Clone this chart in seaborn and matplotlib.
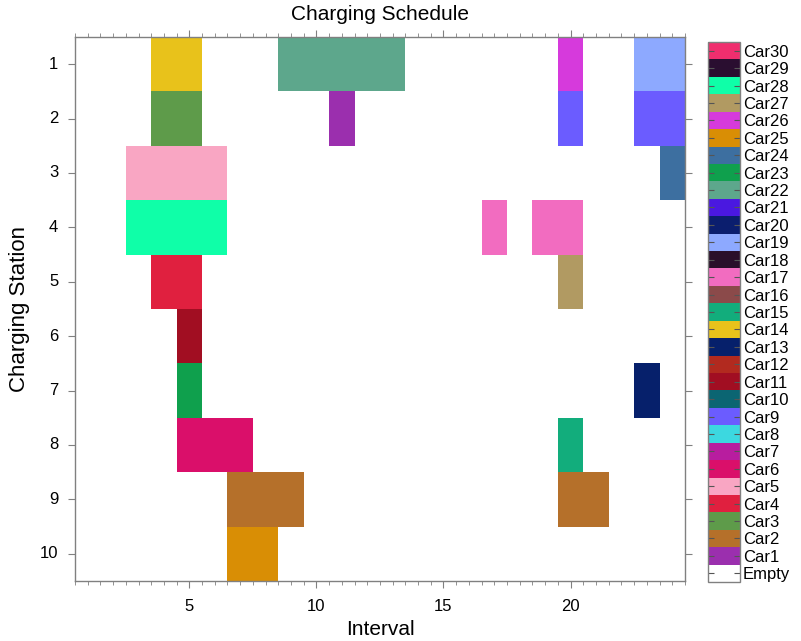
import numpy as np
import seaborn as sns
import matplotlib
matplotlib.use('Agg')
from matplotlib import pyplot as plt
from matplotlib.colors import ListedColormap
from matplotlib.ticker import MultipleLocator

N_STATIONS = 10
N_INTERVALS = 24

LEGEND_LABELS = ['Empty'] + [f'Car{i}' for i in range(1, 31)]
LEGEND_COLORS = [
    '#ffffff',  # Empty
    '#9b2fae', '#b5702a', '#5e9b4a', '#e0203f', '#f9a6c3',
    '#da0f6a', '#b81d9f', '#3cd8e0', '#6b5cff', '#0b6572',
    '#a10e22', '#b22a1f', '#06206b', '#e8c21b', '#12ad7c',
    '#8b4a4a', '#f26cc0', '#2a0f2a', '#8da9ff', '#0b1e6e',
    '#4a18e0', '#5da78c', '#0fa04d', '#3d6fa0', '#d98e05',
    '#d63adc', '#b19a62', '#0fffa8', '#2a0e30', '#f02e6e',
]

# one schedule block per entry: car, station, first and last interval
block_car = [14, 22, 26, 19, 3, 1, 9, 9, 5, 24, 28, 17, 17, 4, 27,
             11, 23, 13, 6, 15, 2, 2, 25]
block_station = [1, 1, 1, 1, 2, 2, 2, 2, 3, 3, 4, 4, 4, 5, 5,
                 6, 7, 7, 8, 8, 9, 9, 10]
block_start = [4, 9, 20, 23, 4, 11, 20, 23, 3, 24, 3, 17, 19, 4, 20,
               5, 5, 23, 5, 20, 7, 20, 7]
block_end = [5, 13, 20, 24, 5, 11, 20, 24, 6, 24, 6, 17, 20, 5, 20,
             5, 5, 23, 7, 20, 9, 21, 8]

grid = np.zeros((N_STATIONS, N_INTERVALS), dtype=int)
for car, st, a, b in zip(block_car, block_station, block_start, block_end):
    grid[st - 1, a - 1:b] = car

plt.rcParams['font.family'] = ['Liberation Sans', 'DejaVu Sans']
fig = plt.figure(figsize=(8.01, 6.41), dpi=100)
ax = fig.add_axes([0.0936, 0.0936, 0.7615, 0.8487])
cax = fig.add_axes([0.884, 0.092, 0.040, 0.8425])

cmap = ListedColormap(LEGEND_COLORS)
sns.heatmap(grid, cmap=cmap, vmin=-0.5, vmax=30.5, ax=ax, cbar_ax=cax,
            cbar_kws={'ticks': list(range(31))})

gray = '#808080'
for side, sp in ax.spines.items():
    sp.set_visible(True)
    sp.set_color(gray)
    sp.set_linewidth(1.0)

ax.set_xticks([4.5, 9.5, 14.5, 19.5])
ax.set_xticklabels(['5', '10', '15', '20'], rotation=0)
ax.xaxis.set_minor_locator(MultipleLocator(0.5))
ax.set_yticks(np.arange(N_STATIONS) + 0.5)
ax.set_yticklabels([str(i) for i in range(1, N_STATIONS + 1)], rotation=0)
ax.tick_params(axis='both', which='major', direction='out', length=5,
               color=gray, labelsize=12, top=True, right=True,
               bottom=True, left=True)
ax.tick_params(axis='x', which='major', pad=8)
ax.tick_params(axis='y', which='major', pad=7)
ax.tick_params(axis='x', which='minor', direction='out', length=3,
               color=gray, top=True, bottom=True)

ax.set_xlabel('Interval', fontsize=15, labelpad=4)
ax.set_ylabel('Charging Station', fontsize=16, labelpad=7)
ax.set_title('Charging Schedule', fontsize=15, pad=12)

cax.set_yticklabels(LEGEND_LABELS)
cax.tick_params(direction='in', length=4, left=True, right=True,
                color='#555555', labelsize=12, pad=2)
cb = ax.collections[0].colorbar
cb.outline.set_edgecolor(gray)
cb.outline.set_linewidth(1.0)

fig.savefig('out.png', dpi=100)
